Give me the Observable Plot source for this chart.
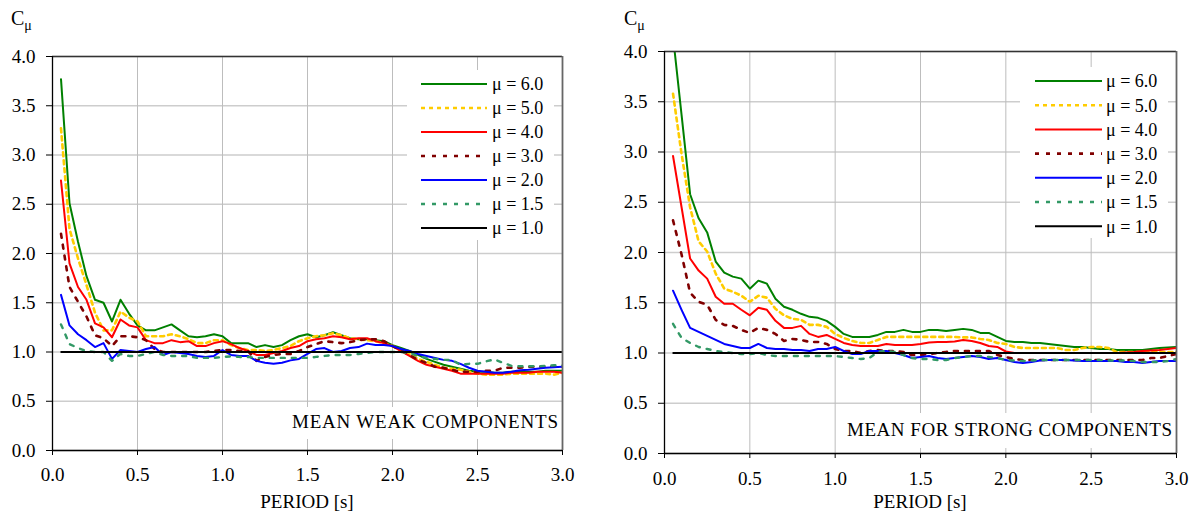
<!DOCTYPE html>
<html><head><meta charset="utf-8">
<script src="https://cdn.jsdelivr.net/npm/d3@7"></script>
<script src="https://cdn.jsdelivr.net/npm/@observablehq/plot@0.6"></script>
<style>
body{margin:0;background:#fff;}
#wrap{position:relative;width:1195px;height:512px;}
#wrap svg{position:absolute;top:0;}
#wrap svg, #wrap svg text, #wrap svg tspan{font-family:"Liberation Serif","Times New Roman",serif !important;}
</style></head><body><div id="wrap"></div>
<script>
// ---- data ----
const periods = [0.05,0.10,0.15,0.20,0.25,0.30,0.35,0.40,0.45,0.50,
  0.55,0.60,0.65,0.70,0.75,0.80,0.85,0.90,0.95,1.00,
  1.05,1.10,1.15,1.20,1.25,1.30,1.35,1.40,1.45,1.50,
  1.55,1.60,1.65,1.70,1.75,1.80,1.85,1.90,1.95,2.00,
  2.05,2.10,2.15,2.20,2.25,2.30,2.35,2.40,2.45,2.50,
  2.55,2.60,2.65,2.70,2.75,2.80,2.85,2.90,2.95,3.00];
const muLabels = ["μ = 6.0","μ = 5.0","μ = 4.0","μ = 3.0","μ = 2.0","μ = 1.5","μ = 1.0"];
const xTicks = [0,0.5,1.0,1.5,2.0,2.5,3.0];
const yTicks = [0,0.5,1.0,1.5,2.0,2.5,3.0,3.5,4.0];
const mu1 = [1.0];

const weak6 = [3.77,2.51,2.12,1.77,1.53,1.50,1.31,1.53,1.39,1.27,
 1.22,1.22,1.25,1.28,1.22,1.16,1.15,1.16,1.18,1.16,
 1.09,1.09,1.09,1.05,1.07,1.05,1.07,1.12,1.16,1.18,
 1.15,1.17,1.20,1.17,1.14,1.13,1.13,1.12,1.11,1.07,
 1.04,1.01,0.97,0.93,0.90,0.87,0.85,0.83,0.81,0.80,
 0.80,0.79,0.79,0.80,0.80,0.80,0.80,0.81,0.81,0.81];
const weak5 = [3.27,2.25,1.95,1.68,1.40,1.22,1.22,1.41,1.35,1.31,
 1.16,1.16,1.16,1.18,1.16,1.13,1.09,1.09,1.12,1.12,
 1.07,1.04,1.02,1.02,1.01,1.02,1.04,1.06,1.11,1.14,
 1.16,1.17,1.19,1.17,1.14,1.13,1.12,1.11,1.09,1.06,
 1.02,0.98,0.93,0.90,0.87,0.84,0.83,0.82,0.80,0.78,
 0.77,0.77,0.77,0.78,0.78,0.78,0.78,0.78,0.77,0.79];
const weak4 = [2.74,1.90,1.66,1.53,1.29,1.25,1.15,1.33,1.27,1.25,
 1.12,1.09,1.09,1.12,1.10,1.11,1.06,1.06,1.09,1.11,
 1.08,1.04,1.01,0.97,0.97,0.99,1.01,1.04,1.06,1.11,
 1.13,1.14,1.16,1.15,1.13,1.14,1.14,1.11,1.09,1.06,
 1.01,0.96,0.91,0.87,0.85,0.83,0.81,0.78,0.78,0.78,
 0.78,0.78,0.78,0.79,0.79,0.79,0.80,0.80,0.80,0.79];
const weak3 = [2.20,1.66,1.51,1.36,1.17,1.14,1.06,1.16,1.16,1.15,
 1.12,1.03,1.00,1.00,1.00,1.00,1.00,1.00,1.01,1.02,
 1.02,1.01,1.01,0.91,0.95,0.97,0.98,0.98,1.01,1.05,
 1.08,1.11,1.10,1.09,1.10,1.12,1.13,1.13,1.11,1.06,
 1.02,0.97,0.92,0.89,0.85,0.84,0.82,0.80,0.80,0.80,
 0.81,0.81,0.84,0.84,0.84,0.85,0.85,0.85,0.85,0.85];
const weak2 = [1.58,1.27,1.18,1.12,1.05,1.09,0.93,1.02,1.01,1.00,
 1.03,1.05,0.97,1.00,0.99,0.98,0.96,0.95,0.96,1.02,
 0.97,0.96,0.96,0.91,0.89,0.88,0.89,0.915,0.93,0.98,
 1.03,1.04,1.00,1.01,1.04,1.05,1.085,1.07,1.07,1.06,
 1.03,1.01,0.98,0.96,0.94,0.92,0.91,0.88,0.84,0.81,
 0.80,0.79,0.79,0.80,0.815,0.82,0.83,0.84,0.845,0.85];
const weak15 = [1.28,1.08,1.04,1.01,1.00,1.00,0.91,0.98,0.96,0.96,
 0.98,1.00,0.97,0.96,0.96,0.96,0.94,0.94,0.94,0.95,
 0.955,0.95,0.95,0.94,0.94,0.94,0.94,0.94,0.94,0.94,
 0.95,0.96,0.97,0.97,0.97,0.98,0.99,1.00,1.00,1.00,
 1.00,0.99,0.96,0.94,0.93,0.92,0.92,0.87,0.88,0.88,
 0.905,0.925,0.89,0.86,0.855,0.855,0.855,0.86,0.865,0.865];

const strong6 = [4.15,3.37,2.58,2.34,2.20,1.91,1.80,1.76,1.74,1.64,
 1.72,1.69,1.54,1.46,1.43,1.39,1.36,1.35,1.32,1.26,
 1.19,1.16,1.16,1.16,1.18,1.21,1.21,1.23,1.21,1.21,
 1.23,1.23,1.22,1.23,1.24,1.23,1.20,1.20,1.16,1.12,
 1.11,1.11,1.10,1.10,1.09,1.08,1.07,1.06,1.06,1.05,
 1.04,1.04,1.03,1.03,1.03,1.03,1.04,1.05,1.055,1.06];
const strong5 = [3.58,2.98,2.45,2.11,2.01,1.79,1.64,1.61,1.57,1.51,
 1.57,1.55,1.44,1.375,1.34,1.33,1.28,1.28,1.26,1.19,
 1.15,1.12,1.10,1.10,1.13,1.16,1.16,1.16,1.16,1.16,
 1.16,1.16,1.16,1.16,1.155,1.155,1.14,1.13,1.10,1.09,
 1.06,1.05,1.05,1.05,1.05,1.05,1.03,1.03,1.05,1.06,
 1.06,1.05,1.01,1.01,1.01,1.01,1.01,1.01,1.01,1.01];
const strong4 = [2.96,2.45,1.94,1.82,1.74,1.56,1.49,1.49,1.43,1.375,
 1.45,1.43,1.32,1.25,1.25,1.27,1.19,1.16,1.18,1.14,
 1.10,1.08,1.07,1.07,1.07,1.09,1.08,1.08,1.08,1.09,
 1.105,1.11,1.11,1.115,1.13,1.12,1.10,1.07,1.06,1.015,
 1.00,1.00,1.00,1.00,1.00,1.00,1.00,1.00,1.00,1.00,
 1.00,1.00,1.00,1.005,1.01,1.02,1.025,1.03,1.04,1.05];
const strong3 = [2.32,1.98,1.60,1.51,1.48,1.33,1.28,1.27,1.23,1.20,
 1.25,1.23,1.19,1.12,1.14,1.13,1.11,1.11,1.09,1.04,
 1.02,1.02,1.00,1.02,1.03,1.02,1.02,1.01,0.98,0.98,
 0.99,1.00,1.01,1.02,1.02,1.02,1.02,1.02,0.98,0.96,
 0.94,0.93,0.93,0.93,0.93,0.93,0.93,0.93,0.93,0.93,
 0.93,0.93,0.93,0.93,0.93,0.93,0.95,0.95,0.97,0.99];
const strong2 = [1.62,1.43,1.25,1.21,1.17,1.13,1.09,1.07,1.05,1.05,
 1.09,1.05,1.04,1.04,1.03,1.03,1.02,1.04,1.04,1.06,
 1.02,0.99,0.99,1.02,1.02,1.02,1.00,0.98,0.95,0.96,
 0.97,0.95,0.94,0.95,0.96,0.97,0.96,0.94,0.95,0.93,
 0.91,0.90,0.91,0.925,0.93,0.93,0.93,0.925,0.92,0.92,
 0.92,0.92,0.92,0.91,0.91,0.90,0.91,0.92,0.92,0.92];
const strong15 = [1.29,1.15,1.10,1.06,1.04,1.02,1.01,1.00,0.99,0.99,
 1.00,0.98,0.97,0.97,0.97,0.97,0.97,0.97,0.97,0.97,
 0.96,0.95,0.94,0.95,1.01,1.02,1.01,0.98,0.95,0.94,
 0.94,0.93,0.93,0.95,0.96,0.97,0.97,0.96,0.95,0.93,
 0.925,0.92,0.925,0.93,0.93,0.93,0.93,0.93,0.93,0.93,
 0.93,0.925,0.925,0.925,0.92,0.91,0.91,0.91,0.92,0.94];

// ---- styles (per series, legend order) ----
const styles = [
  {stroke:"#008000", width:2,   dash:null},
  {stroke:"#FFCC00", width:2.6, dash:"4,4"},
  {stroke:"#FF0000", width:2,   dash:null},
  {stroke:"#800000", width:2.6, dash:"4,7"},
  {stroke:"#0000FF", width:2,   dash:null},
  {stroke:"#339966", width:2.4, dash:"4,7"},
  {stroke:"#000000", width:2,   dash:null}
];
const FONT = "Liberation Serif, Times New Roman, serif";

function panel(cfg) {
  const {series, width, mL, mR, mT, mB} = cfg;
  const lines = series.map((vals, i) => Plot.lineY(vals, {
    x: periods, stroke: styles[i].stroke, strokeWidth: styles[i].width,
    strokeDasharray: styles[i].dash, clip: true
  }));
  const plot = Plot.plot({
    width, height: 512, marginLeft: mL, marginRight: mR, marginTop: mT, marginBottom: mB,
    x: {domain: [0, 3]}, y: {domain: [0, 4]},
    style: {fontFamily: FONT, fontSize: "19px", color: "#000", background: "#fff", overflow: "visible"},
    marks: [
      Plot.gridY(yTicks, {stroke: "#cdcdcd", strokeOpacity: 1, strokeWidth: 1.5}),
      Plot.gridX(xTicks, {stroke: "#bdbdbd", strokeOpacity: 1, strokeWidth: 1}),
      ...lines,
      Plot.ruleY(mu1, {x1: periods[0], x2: periods[periods.length - 1], stroke: "#000", strokeWidth: 2}),
      Plot.ruleY([4], {stroke: "#333", strokeWidth: 1.5}),
      Plot.ruleX([3], {stroke: "#666", strokeWidth: 1.8}),
      Plot.ruleX([0], {stroke: "#000", strokeWidth: 1.3}),
      Plot.ruleY([0], {stroke: "#000", strokeWidth: 1.3}),
      Plot.axisX(xTicks, {tickFormat: d => d.toFixed(1), tickSize: 5, tickPadding: cfg.xPad, label: null, fontSize: 19, fontFamily: FONT}),
      Plot.axisY(yTicks, {tickFormat: d => d.toFixed(1), tickSize: 6, tickPadding: cfg.yPad, label: null, fontSize: 19, fontFamily: FONT})
    ]
  });
  const svg = d3.select(plot);
  // Y label C_mu
  const yl = svg.append("text").attr("x", cfg.cx).attr("y", 25).attr("text-anchor", "start")
    .attr("font-family", FONT).attr("font-size", 20).attr("fill", "#000");
  yl.append("tspan").text("C");
  yl.append("tspan").attr("font-size", 14).attr("dy", 5).text("μ");
  // X label
  svg.append("text").attr("x", mL + (width - mL - mR) / 2).attr("y", 508)
    .attr("text-anchor", "middle").attr("font-family", FONT).attr("font-size", 19)
    .attr("fill", "#000").text("PERIOD [s]");
  // legend
  const lg = cfg.legend;
  const g = svg.append("g");
  g.append("rect").attr("x", lg.bx).attr("y", lg.by).attr("width", lg.bw).attr("height", lg.bh).attr("fill", "#fff");
  muLabels.forEach((lab, i) => {
    const y = lg.y0 + i * lg.dy;
    g.append("line").attr("x1", lg.x1).attr("x2", lg.x2).attr("y1", y).attr("y2", y)
      .attr("stroke", styles[i].stroke).attr("stroke-width", styles[i].width)
      .attr("stroke-dasharray", styles[i].dash);
    g.append("text").attr("x", lg.tx).attr("y", y).attr("dy", "0.35em").attr("text-anchor", "start")
      .attr("font-family", FONT).attr("font-size", 18).attr("fill", "#000").text(lab);
  });
  // annotation
  const an = cfg.note;
  svg.append("rect").attr("x", an.bx).attr("y", an.by).attr("width", an.bw).attr("height", an.bh).attr("fill", "#fff");
  svg.append("text").attr("x", an.x).attr("y", an.y).attr("text-anchor", "end")
    .attr("font-family", FONT).attr("font-size", 19).attr("fill", "#000")
    .attr("textLength", an.len).attr("lengthAdjust", "spacing").text(an.text);
  return plot;
}

const wrap = document.getElementById("wrap");
const left = panel({
  series: [weak6, weak5, weak4, weak3, weak2, weak15],
  width: 597, mL: 52, mR: 35, mT: 56, mB: 62, cx: 11, xPad: 12, yPad: 11,
  legend: {bx: 407, by: 70, bw: 147, bh: 170, x1: 421, x2: 487, tx: 492, y0: 84, dy: 24},
  note: {text: "MEAN WEAK COMPONENTS", x: 558, y: 428, len: 266, bx: 288, by: 407, bw: 272, bh: 32}
});
left.style.left = "0px";
wrap.appendChild(left);

const right = panel({
  series: [strong6, strong5, strong4, strong3, strong2, strong15],
  width: 598, mL: 67, mR: 19, mT: 51, mB: 59, cx: 27, xPad: 13, yPad: 11,
  legend: {bx: 423, by: 67, bw: 148, bh: 171, x1: 438, x2: 505, tx: 509, y0: 81, dy: 24.2},
  note: {text: "MEAN FOR STRONG COMPONENTS", x: 575, y: 436, len: 325, bx: 246, by: 413, bw: 332, bh: 35}
});
right.style.left = "597px";
wrap.appendChild(right);
</script></body></html>
